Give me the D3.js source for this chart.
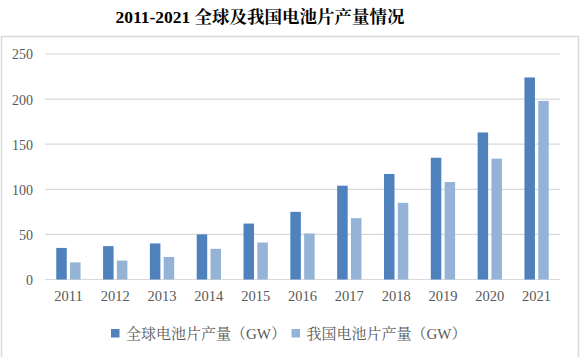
<!DOCTYPE html>
<html><head><meta charset="utf-8">
<script src="https://cdn.jsdelivr.net/npm/d3@7"></script>
<style>
html,body{margin:0;padding:0;background:#fff;}
svg{display:block;}
</style></head>
<body>
<svg id="chart" width="581" height="357"></svg>
<script>
const years = ["2011","2012","2013","2014","2015","2016","2017","2018","2019","2020","2021"];
const globalValues = [35, 37, 40, 50, 62, 75, 104, 117, 135, 163, 224];
const chinaValues = [19, 21, 25, 34, 41, 51, 68, 85, 108, 134, 198];
const seriesNames = ["全球电池片产量（GW）", "我国电池片产量（GW）"];
const yTicks = [0, 50, 100, 150, 200, 250];
const titleText = "2011-2021 全球及我国电池片产量情况";

const colors = ["#4F81BD", "#95B3D7"];
const serif = "'Liberation Serif','Times New Roman','Noto Serif CJK SC','Noto Sans CJK SC',serif";

const svg = d3.select("#chart");

// frame
svg.append("rect").attr("x", 1.5).attr("y", 36.5).attr("width", 577).attr("height", 340)
  .attr("fill", "none").attr("stroke", "#d9d9d9").attr("stroke-width", 1.5);

// title
svg.append("text").attr("x", 260).attr("y", 23).attr("text-anchor", "middle")
  .attr("font-family", serif).attr("font-weight", "bold").attr("font-size", 17.5)
  .attr("fill", "#000").text(titleText);

const x = d3.scaleBand().domain(years).range([45, 560]);
const y = d3.scaleLinear().domain([0, 250]).range([279.5, 54]);

// grid
svg.append("g").selectAll("line").data(yTicks).join("line")
  .attr("x1", 45).attr("x2", 560)
  .attr("y1", d => y(d)).attr("y2", d => y(d))
  .attr("stroke", "#d9d9d9").attr("stroke-width", 1.2);

// y labels
const yAxis = d3.axisLeft(y).tickValues(yTicks).tickSize(0).tickPadding(0);
const gy = svg.append("g").attr("transform", "translate(33,0)").call(yAxis);
gy.select(".domain").remove();
gy.selectAll("text").attr("font-family", serif).attr("font-size", 14).attr("fill", "#595959").attr("dy", "0.35em");

// x labels
const xAxis = d3.axisBottom(x).tickSize(0).tickPadding(0);
const gx = svg.append("g").attr("transform", "translate(0,290.5)").call(xAxis);
gx.select(".domain").remove();
gx.selectAll("text").attr("font-family", serif).attr("font-size", 14.5).attr("fill", "#595959").attr("dy", "0.75em");

// bars
const barW = 10.5, gap = 3.3;
const series = [globalValues, chinaValues];
series.forEach((vals, si) => {
  svg.append("g").selectAll("rect").data(years).join("rect")
    .attr("x", (d) => x(d) + x.bandwidth() / 2 + (si === 0 ? -gap / 2 - barW : gap / 2))
    .attr("width", barW)
    .attr("y", (d, i) => y(vals[i]))
    .attr("height", (d, i) => y(0) - y(vals[i]))
    .attr("fill", colors[si]);
});

// legend
const legendItems = [{x: 111, name: seriesNames[0], c: colors[0]}, {x: 291.5, name: seriesNames[1], c: colors[1]}];
legendItems.forEach(it => {
  svg.append("rect").attr("x", it.x).attr("y", 329).attr("width", 8.5).attr("height", 8.5).attr("fill", it.c);
  svg.append("text").attr("x", it.x + 15).attr("y", 333.5).attr("dy", "0.35em")
    .attr("font-family", serif).attr("font-size", 15).attr("fill", "#595959").text(it.name);
});
</script>
</body></html>
